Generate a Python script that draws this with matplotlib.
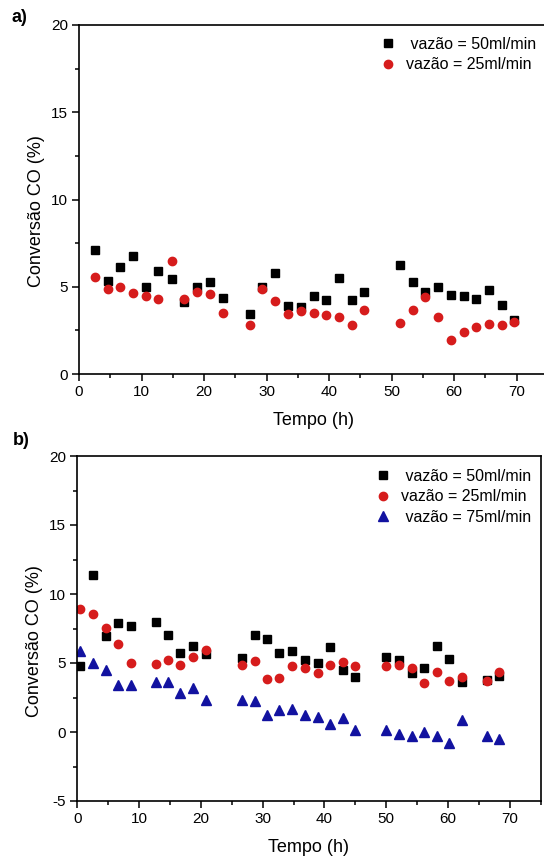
import matplotlib
matplotlib.use("Agg")
import matplotlib.pyplot as plt
from matplotlib.ticker import MultipleLocator

plt.rcParams['font.family'] = ['Liberation Sans', 'DejaVu Sans']
plt.rcParams['axes.unicode_minus'] = False

# Panel a) time axis and conversion for two flow rates
t_a = [2.6, 4.6, 6.6, 8.6, 10.7, 12.7, 14.8, 16.8, 18.9, 20.9, 23.0, 27.3, 29.3,
       31.4, 33.4, 35.5, 37.5, 39.5, 41.6, 43.6, 45.6, 51.4, 53.4, 55.4, 57.4,
       59.5, 61.5, 63.5, 65.6, 67.6, 69.6]
conv_a_50 = [7.1, 5.33, 6.13, 6.76, 5.0, 5.92, 5.42, 4.15, 5.0, 5.29, 4.34, 3.46,
             5.0, 5.81, 3.92, 3.82, 4.47, 4.22, 5.52, 4.24, 4.72, 6.23, 5.25, 4.68,
             4.99, 4.53, 4.49, 4.28, 4.81, 3.94, 3.09]
conv_a_25 = [5.56, 4.87, 4.97, 4.62, 4.47, 4.28, 6.48, 4.32, 4.68, 4.60, 3.51, 2.83,
             4.87, 4.17, 3.42, 3.63, 3.48, 3.40, 3.29, 2.83, 3.67, 2.90, 3.67, 4.43,
             3.25, 1.97, 2.43, 2.67, 2.88, 2.79, 2.96]

# Panel b) time axis and conversion for three flow rates
t_b = [0.5, 2.6, 4.6, 6.6, 8.7, 12.7, 14.7, 16.7, 18.8, 20.8, 26.7, 28.7, 30.7,
       32.7, 34.8, 36.8, 38.9, 40.9, 43.0, 45.0, 50.0, 52.0, 54.1, 56.1, 58.2,
       60.2, 62.2, 66.3, 68.3]
conv_b_50 = [4.78, 11.35, 6.96, 7.92, 7.66, 8.0, 7.03, 5.72, 6.23, 5.68, 5.39, 7.05,
             6.74, 5.72, 5.85, 5.19, 5.0, 6.16, 4.49, 3.99, 5.43, 5.19, 4.28, 4.64,
             6.23, 5.29, 3.65, 3.74, 4.08]
conv_b_25 = [8.89, 8.53, 7.51, 6.40, 5.0, 4.90, 5.24, 4.83, 5.46, 5.92, 4.83, 5.14,
             3.82, 3.91, 4.78, 4.66, 4.30, 4.83, 5.07, 4.76, 4.76, 4.83, 4.66, 3.53,
             4.35, 3.70, 3.99, 3.70, 4.35]
conv_b_75 = [5.87, 5.0, 4.49, 3.41, 3.38, 3.65, 3.65, 2.83, 3.19, 2.29, 2.34, 2.22,
             1.21, 1.59, 1.69, 1.26, 1.09, 0.60, 1.04, 0.12, 0.12, -0.17, -0.31, 0.0,
             -0.27, -0.77, 0.85, -0.27, -0.53]

labels = [" vazão = 50ml/min", "vazão = 25ml/min", " vazão = 75ml/min"]

BLACK = "#000000"
RED = "#d61c1c"
BLUE = "#1212a0"

fig = plt.figure(figsize=(5.44, 8.59), dpi=100)
W, H = 544.0, 859.0


def px_axes(left, right, top, bottom):
    return fig.add_axes([left / W, 1 - bottom / H, (right - left) / W, (bottom - top) / H])


def style(ax, ymin, ymax, ylab_y):
    ax.set_xlim(0, 75)
    ax.set_ylim(ymin, ymax)
    ax.xaxis.set_major_locator(MultipleLocator(10))
    ax.xaxis.set_minor_locator(MultipleLocator(5))
    ax.yaxis.set_major_locator(MultipleLocator(5))
    ax.yaxis.set_minor_locator(MultipleLocator(2.5))
    ax.tick_params(which='both', direction='out', top=False, right=False,
                   labelsize=11, width=1.1, color='black', pad=3)
    ax.tick_params(which='major', length=5)
    ax.tick_params(which='minor', length=3)
    for s in ax.spines.values():
        s.set_linewidth(1.2)
    ax.set_xlabel("Tempo (h)", fontsize=13, labelpad=9.5)
    ax.set_ylabel("Conversão CO (%)", fontsize=13)
    ax.yaxis.set_label_coords(-0.073, ylab_y)


def legend_at(ax, x, y):
    ax.legend(loc='upper left', bbox_to_anchor=(x / W, 1 - y / H),
              bbox_transform=fig.transFigure, frameon=False, fontsize=11.5,
              handletextpad=0.6, labelspacing=0.34, handlelength=1.0,
              borderpad=0, borderaxespad=0)


ax_a = px_axes(79, 548, 25, 374)
ax_a.plot(t_a, conv_a_50, 's', color=BLACK, ms=5.2, label=labels[0], clip_on=False)
ax_a.plot(t_a, conv_a_25, 'o', color=RED, ms=6, label=labels[1], clip_on=False)
style(ax_a, 0, 20, 0.467)
legend_at(ax_a, 380, 37)

ax_b = px_axes(77.3, 540.7, 456, 801)
ax_b.plot(t_b, conv_b_50, 's', color=BLACK, ms=5.2, label=labels[0])
ax_b.plot(t_b, conv_b_25, 'o', color=RED, ms=6, label=labels[1])
ax_b.plot(t_b, conv_b_75, '^', color=BLUE, ms=6.5, label=labels[2])
style(ax_b, -5, 20, 0.464)
legend_at(ax_b, 375, 469)

fig.text(12 / W, 1 - 18 / H, "a)", fontsize=13, fontweight='bold', va='center', ha='left')
fig.text(13 / W, 1 - 440 / H, "b)", fontsize=13, fontweight='bold', va='center', ha='left')

fig.savefig("out.png", dpi=100)
